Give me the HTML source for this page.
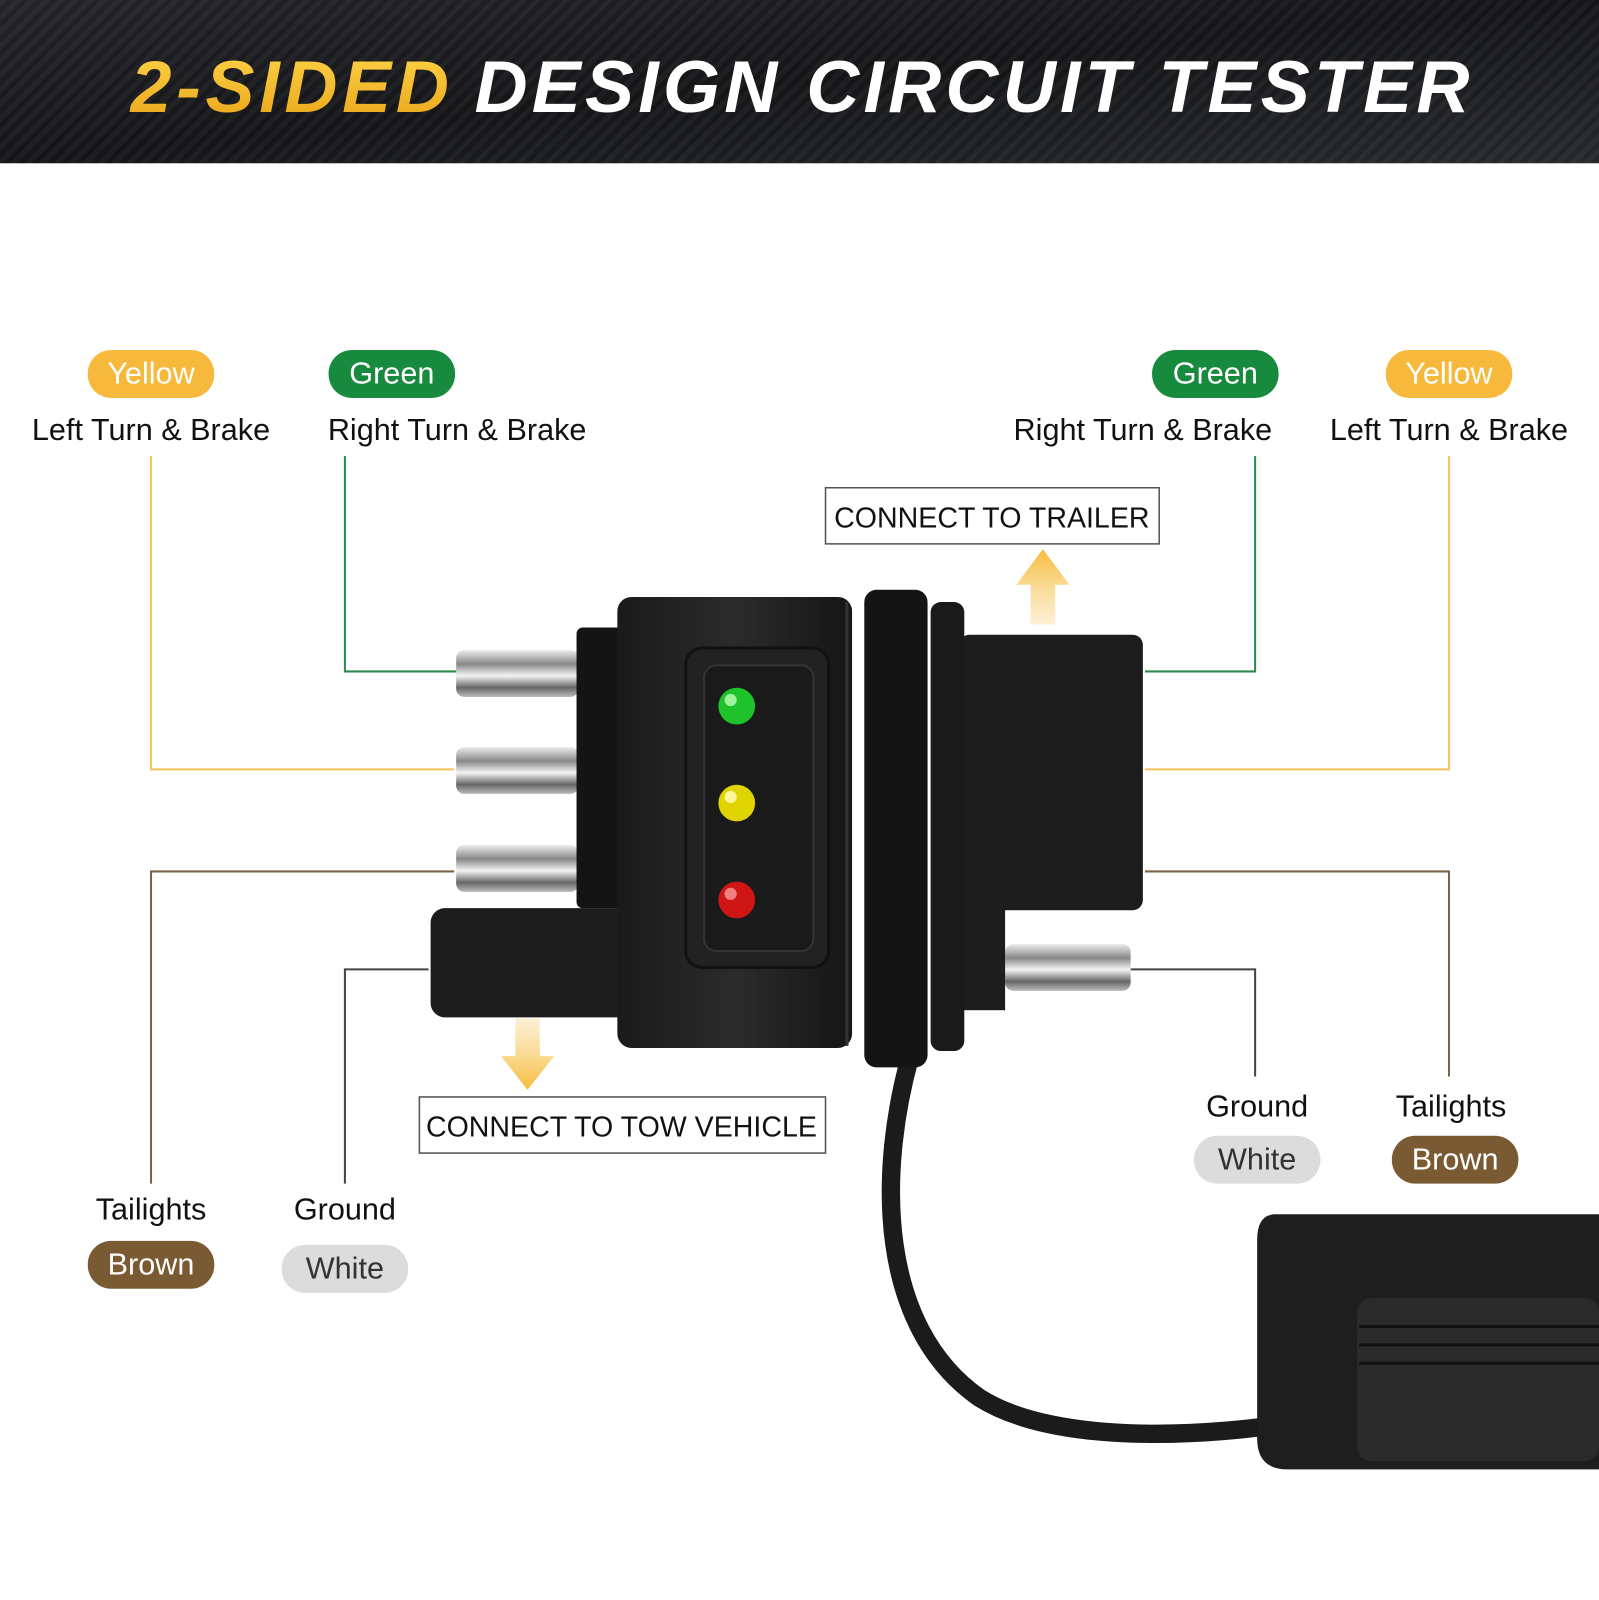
<!DOCTYPE html>
<html><head><meta charset="utf-8"><style>
html,body{margin:0;padding:0;background:#fff;}
svg{display:block;}
</style></head><body>
<svg width="1599" height="1600" viewBox="0 0 1567 1568" preserveAspectRatio="none" xmlns="http://www.w3.org/2000/svg">
<defs>
<linearGradient id="hdr" x1="0" y1="0" x2="1" y2="1">
<stop offset="0" stop-color="#232428"/><stop offset="0.5" stop-color="#141517"/><stop offset="1" stop-color="#26282c"/></linearGradient>
<pattern id="carbon" width="10" height="10" patternUnits="userSpaceOnUse" patternTransform="rotate(45)">
<rect width="5" height="10" fill="#ffffff" opacity="0.04"/></pattern>
<linearGradient id="gold" x1="0" y1="0" x2="0" y2="1"><stop offset="0" stop-color="#ffd54a"/><stop offset="1" stop-color="#e8a317"/></linearGradient>
<linearGradient id="arrUp" x1="0" y1="0" x2="0" y2="1"><stop offset="0" stop-color="#f7bb3a"/><stop offset="1" stop-color="#fbe6b8" stop-opacity="0.6"/></linearGradient>
<linearGradient id="arrDn" x1="0" y1="1" x2="0" y2="0"><stop offset="0" stop-color="#f7bb3a"/><stop offset="1" stop-color="#fbe6b8" stop-opacity="0.6"/></linearGradient>
<linearGradient id="pin" x1="0" y1="0" x2="0" y2="1"><stop offset="0" stop-color="#eee"/><stop offset="0.3" stop-color="#888"/><stop offset="0.55" stop-color="#f4f4f4"/><stop offset="0.8" stop-color="#666"/><stop offset="1" stop-color="#bbb"/></linearGradient>
<linearGradient id="body" x1="0" y1="0" x2="1" y2="0"><stop offset="0" stop-color="#1a1a1a"/><stop offset="0.5" stop-color="#2b2b2b"/><stop offset="1" stop-color="#151515"/></linearGradient>
</defs>
<rect x="0" y="0" width="1567" height="160" fill="url(#hdr)"/>
<rect x="0" y="0" width="1567" height="160" fill="url(#carbon)"/>
<text x="128" y="110" font-family="Liberation Sans, sans-serif" font-size="72" font-weight="bold" font-style="italic" fill="url(#gold)" textLength="312">2-SIDED</text>
<text x="465" y="110" font-family="Liberation Sans, sans-serif" font-size="72" font-weight="bold" font-style="italic" fill="#fff" textLength="975">DESIGN CIRCUIT TESTER</text>

<g fill="none" stroke-width="2">
<polyline points="148,447 148,754 445,754" stroke="#f5c45a"/>
<polyline points="338,447 338,658 448,658" stroke="#2a8a4e"/>
<polyline points="148,1160 148,854 445,854" stroke="#7a6448"/>
<polyline points="338,1160 338,950 420,950" stroke="#444"/>
<polyline points="1230,447 1230,658 1122,658" stroke="#2a8a4e"/>
<polyline points="1420,447 1420,754 1122,754" stroke="#f5c45a"/>
<polyline points="1420,1055 1420,854 1122,854" stroke="#7a6448"/>
<polyline points="1230,1055 1230,950 1108,950" stroke="#444"/>
</g>

<g font-family="Liberation Sans, sans-serif" font-size="30" text-anchor="middle">
<rect x="86" y="343" width="124" height="47" rx="23" fill="#f6b93b"/><text x="148" y="376" fill="#fff">Yellow</text>
<rect x="322" y="343" width="124" height="47" rx="23" fill="#178a3e"/><text x="384" y="376" fill="#fff">Green</text>
<rect x="1129" y="343" width="124" height="47" rx="23" fill="#178a3e"/><text x="1191" y="376" fill="#fff">Green</text>
<rect x="1358" y="343" width="124" height="47" rx="23" fill="#f6b93b"/><text x="1420" y="376" fill="#fff">Yellow</text>
<text x="148" y="431" fill="#111">Left Turn &amp; Brake</text>
<text x="448" y="431" fill="#111">Right Turn &amp; Brake</text>
<text x="1120" y="431" fill="#111">Right Turn &amp; Brake</text>
<text x="1420" y="431" fill="#111">Left Turn &amp; Brake</text>
<text x="148" y="1195" fill="#111">Tailights</text>
<rect x="86" y="1216" width="124" height="47" rx="23" fill="#7a5a33"/><text x="148" y="1249" fill="#fff">Brown</text>
<text x="338" y="1195" fill="#111">Ground</text>
<rect x="276" y="1220" width="124" height="47" rx="23" fill="#dcdcdc"/><text x="338" y="1253" fill="#333">White</text>
<text x="1232" y="1094" fill="#111">Ground</text>
<rect x="1170" y="1113" width="124" height="47" rx="23" fill="#dcdcdc"/><text x="1232" y="1146" fill="#333">White</text>
<text x="1422" y="1094" fill="#111">Tailights</text>
<rect x="1364" y="1113" width="124" height="47" rx="23" fill="#7a5a33"/><text x="1426" y="1146" fill="#fff">Brown</text>
</g>

<rect x="809" y="478" width="327" height="55" fill="#fff" stroke="#555" stroke-width="1.5"/>
<text x="972" y="517" font-family="Liberation Sans, sans-serif" font-size="28" text-anchor="middle" fill="#111">CONNECT TO TRAILER</text>
<rect x="411" y="1075" width="398" height="55" fill="#fff" stroke="#555" stroke-width="1.5"/>
<text x="609" y="1114" font-family="Liberation Sans, sans-serif" font-size="28" text-anchor="middle" fill="#111">CONNECT TO TOW VEHICLE</text>
<polygon points="1022,538 1048,573 1034,573 1034,612 1010,612 1010,573 996,573" fill="url(#arrUp)"/>
<polygon points="517,1068 543,1035 529,1035 529,998 505,998 505,1035 491,1035" fill="url(#arrDn)"/>

<path d="M892,1035 C860,1150 860,1300 960,1370 C1040,1420 1200,1405 1260,1395" fill="none" stroke="#1b1b1b" stroke-width="18"/>
<path d="M1250,1190 L1567,1190 L1567,1440 L1262,1440 Q1232,1440 1232,1410 L1232,1215 Q1232,1190 1250,1190 Z" fill="#1e1e1e"/>
<rect x="1330" y="1272" width="237" height="160" rx="14" fill="#2a2a2a"/>
<g stroke="#111" stroke-width="3"><line x1="1332" y1="1300" x2="1567" y2="1300"/><line x1="1332" y1="1318" x2="1567" y2="1318"/><line x1="1332" y1="1336" x2="1567" y2="1336"/></g>

<rect x="447" y="637" width="120" height="46" rx="8" fill="url(#pin)"/>
<rect x="447" y="732" width="120" height="46" rx="8" fill="url(#pin)"/>
<rect x="447" y="828" width="120" height="46" rx="8" fill="url(#pin)"/>
<rect x="985" y="925" width="123" height="46" rx="8" fill="url(#pin)"/>
<rect x="565" y="615" width="50" height="275" rx="6" fill="#141414"/>
<rect x="422" y="890" width="200" height="107" rx="14" fill="#1c1c1c"/>
<rect x="940" y="622" width="180" height="270" rx="10" fill="#1d1d1d"/>
<rect x="940" y="880" width="45" height="110" fill="#1d1d1d"/>
<rect x="605" y="585" width="230" height="442" rx="14" fill="url(#body)"/>
<rect x="847" y="578" width="62" height="468" rx="12" fill="#141414"/>
<rect x="912" y="590" width="33" height="440" rx="10" fill="#1a1a1a"/>
<line x1="830" y1="590" x2="830" y2="1025" stroke="#333" stroke-width="3"/>
<rect x="672" y="635" width="140" height="313" rx="16" fill="#222" stroke="#111" stroke-width="3"/>
<rect x="690" y="652" width="107" height="280" rx="12" fill="#1a1a1a" stroke="#333" stroke-width="2"/>
<circle cx="722" cy="692" r="18" fill="#1ec22a"/><circle cx="716" cy="686" r="6" fill="#9ff09f"/>
<circle cx="722" cy="787" r="18" fill="#e0d400"/><circle cx="716" cy="781" r="6" fill="#fff59a"/>
<circle cx="722" cy="882" r="18" fill="#d01515"/><circle cx="716" cy="876" r="6" fill="#f08080"/>
</svg>
</body></html>
